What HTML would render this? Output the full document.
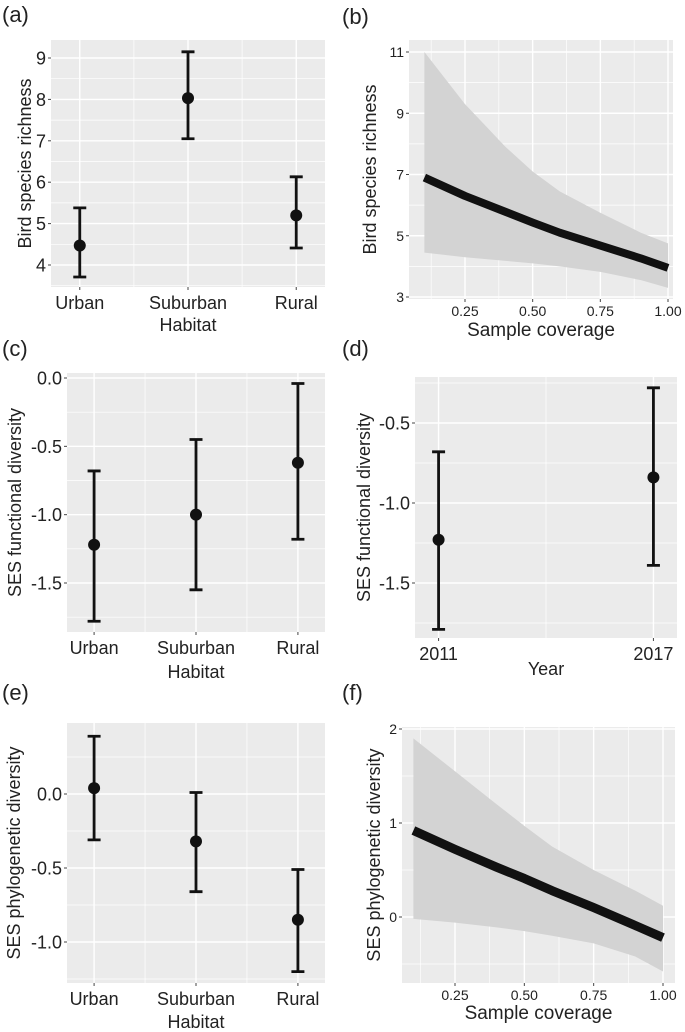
<!DOCTYPE html>
<html><head><meta charset="utf-8"><style>
html,body{margin:0;padding:0;background:#fff;}
svg{display:block;font-family:"Liberation Sans",sans-serif;}
</style></head><body>
<svg id="fig" width="685" height="1032" viewBox="0 0 685 1032" xmlns="http://www.w3.org/2000/svg"></svg>
<script>
// ---- data ----
const habitatCats = ["Urban","Suburban","Rural"];
const aMean = [4.47, 8.03, 5.2];
const aLow = [3.71, 7.05, 4.41];
const aHigh = [5.38, 9.15, 6.13];
const aTicks = [4,5,6,7,8,9];

const cMean = [-1.22, -1.0, -0.62];
const cLow = [-1.78, -1.55, -1.18];
const cHigh = [-0.68, -0.45, -0.04];
const cTicks = [0.0,-0.5,-1.0,-1.5];

const yearCats = ["2011","2017"];
const dMean = [-1.23, -0.84];
const dLow = [-1.79, -1.39];
const dHigh = [-0.68, -0.28];
const dTicks = [-0.5,-1.0,-1.5];

const eMean = [0.04, -0.32, -0.85];
const eLow = [-0.31, -0.66, -1.2];
const eHigh = [0.39, 0.01, -0.51];
const eTicks = [0.0,-0.5,-1.0];

const covX = [0.1, 0.25, 0.4, 0.5, 0.6, 0.75, 0.9, 1.0];
const bFit = [6.9, 6.3, 5.78, 5.43, 5.1, 4.68, 4.26, 3.95];
const bUpper = [11.0, 9.3, 7.9, 7.1, 6.45, 5.75, 5.1, 4.75];
const bLower = [4.45, 4.3, 4.18, 4.1, 4.0, 3.82, 3.55, 3.3];
const bTicks = [3,5,7,9,11];
const covTicks = [0.25,0.5,0.75,1.0];

const fFit = [0.92, 0.72, 0.53, 0.41, 0.28, 0.1, -0.09, -0.22];
const fUpper = [1.9, 1.55, 1.2, 0.97, 0.75, 0.5, 0.28, 0.12];
const fLower = [-0.02, -0.06, -0.11, -0.15, -0.2, -0.28, -0.42, -0.58];
const fTicks = [0,1,2];

// ---- helpers ----
const NS = "http://www.w3.org/2000/svg";
const svg = document.getElementById('fig');
function mk(tag, attrs, parent, text){
  const e = document.createElementNS(NS, tag);
  for (const k in attrs) e.setAttribute(k, attrs[k]);
  if (text !== undefined) e.textContent = text;
  (parent||svg).appendChild(e);
  return e;
}
function linScale(d0,d1,r0,r1){ return v => r0 + (v-d0)/(d1-d0)*(r1-r0); }

function panelFrame(g, box, name){
  const r = mk('rect',{x:box.x0,y:box.y0,width:box.x1-box.x0,height:box.y1-box.y0,fill:'#ebebeb'},g);
  
  
}
function gridLine(g,x1,y1,x2,y2,major){
  const l = mk('line',{x1:x1,y1:y1,x2:x2,y2:y2,stroke:'#fff','stroke-width':major?1.4:0.7},g);
  
  
}
function addText(g,x,y,s,size,anchor,name,rot){
  const t = mk('text',{x:x,y:y,'font-size':size,'text-anchor':anchor||'middle',fill:'#222'},g,s);
  if (rot) t.setAttribute('transform','rotate(-90 '+x+' '+y+')');
  
  
  return t;
}
function yAxis(g, box, sy, ticks, fmt, size, minorStep){
  const vmin = Math.min(...ticks), vmax = Math.max(...ticks);
  if (minorStep){
    for (let v = vmin - minorStep; v <= vmax + minorStep + 1e-9; v += minorStep*2){
      const yy = sy(v);
      if (yy > box.y0 && yy < box.y1) gridLine(g, box.x0, yy, box.x1, yy, false);
    }
  }
  ticks.forEach(v=>{
    const yy = sy(v);
    gridLine(g, box.x0, yy, box.x1, yy, true);
    const tk = mk('line',{x1:box.x0-3,y1:yy,x2:box.x0,y2:yy,stroke:'#444','stroke-width':1},g);
    
    
    addText(g, box.x0-5, yy+size*0.36, fmt(v), size, 'end', 'y-tick-label');
  });
}
function catPanel(name, box, cats, mean, low, high, ticks, ymin, ymax, fmt, ytitle, ytx, xtitle, xtitleY, tickSize, capW){
  const g = mk('g',{});
  
  
  panelFrame(g, box, name);
  const n = cats.length;
  const pad = (box.x1-box.x0) * (n===3 ? 0.105 : 0.09);
  const sx = linScale(0, n-1, box.x0+pad, box.x1-pad);
  const sy = linScale(ymin, ymax, box.y1, box.y0);
  const step = Math.abs(ticks[1]-ticks[0]);
  yAxis(g, box, sy, ticks, fmt, tickSize, step/2);
  for (let i=0;i<n-1;i++) gridLine(g, sx(i+0.5), box.y0, sx(i+0.5), box.y1, false);
  cats.forEach((c,i)=>{
    gridLine(g, sx(i), box.y0, sx(i), box.y1, true);
    const tk = mk('line',{x1:sx(i),y1:box.y1,x2:sx(i),y2:box.y1+3,stroke:'#444','stroke-width':1},g);
    
    
    addText(g, sx(i), box.y1+tickSize+4, c, tickSize, 'middle', 'x-tick-label-'+c.toLowerCase());
  });
  cats.forEach((c,i)=>{
    const x = sx(i);
    const eb = mk('path',{d:'M'+(x-capW/2)+','+sy(high[i])+'H'+(x+capW/2)+'M'+x+','+sy(high[i])+'V'+sy(low[i])+'M'+(x-capW/2)+','+sy(low[i])+'H'+(x+capW/2),stroke:'#111','stroke-width':2.8,fill:'none'},g);
    
    
    const pt = mk('circle',{cx:x,cy:sy(mean[i]),r:6,fill:'#111'},g);
    
    
  });
  addText(g, ytx, (box.y0+box.y1)/2, ytitle, 18, 'middle', 'y-axis-title', true);
  addText(g, (box.x0+box.x1)/2, xtitleY, xtitle, 18, 'middle', 'x-axis-title');
}
function covPanel(name, box, fit, upper, lower, ticks, ymin, ymax, ytitle, ytx, xtitleY, lw){
  const g = mk('g',{});
  
  
  panelFrame(g, box, name);
  const sx = linScale(0.25, 1.0, box.xa, box.xb);
  const sy = linScale(ymin, ymax, box.ya, box.yb);
  yAxis(g, box, sy, ticks, v=>String(v), 14, (ticks[1]-ticks[0])/2);
  [0.125,0.375,0.625,0.875].forEach(v=>{ if (sx(v)>box.x0) gridLine(g, sx(v), box.y0, sx(v), box.y1, false); });
  covTicks.forEach(v=>{
    gridLine(g, sx(v), box.y0, sx(v), box.y1, true);
    const tk = mk('line',{x1:sx(v),y1:box.y1,x2:sx(v),y2:box.y1+3,stroke:'#444','stroke-width':1},g);
    
    
    addText(g, sx(v), box.y1+17, v.toFixed(2), 14, 'middle', 'x-tick-label');
  });
  let d = '';
  covX.forEach((x,i)=>{ d += (i?'L':'M')+sx(x)+','+sy(upper[i]); });
  for (let i=covX.length-1;i>=0;i--) d += 'L'+sx(covX[i])+','+sy(lower[i]);
  const band = mk('path',{d:d+'Z',fill:'#d3d3d3'},g);
  
  
  let dl = '';
  covX.forEach((x,i)=>{ dl += (i?'L':'M')+sx(x)+','+sy(fit[i]); });
  const ln = mk('path',{d:dl,fill:'none',stroke:'#111','stroke-width':lw,'stroke-linejoin':'round'},g);
  
  
  addText(g, ytx, (box.y0+box.y1)/2, ytitle, 18, 'middle', 'y-axis-title', true);
  addText(g, (box.x0+box.x1)/2, xtitleY, 'Sample coverage', 19, 'middle', 'x-axis-title');
}

// panel labels
[['(a)',2,22],['(b)',342,24],['(c)',2,356],['(d)',342,356],['(e)',2,700],['(f)',342,700]].forEach(p=>{
  addText(svg, p[1], p[2], p[0], 22, 'start', 'panel-label-'+p[0][1]);
});

// (a): 9 at y=58, 4 at y=265
(function(){
  const y0=40,y1=287, per=(265-58)/5;
  const ymin = 4 - (y1-265)/per, ymax = 9 + (58-y0)/per;
  catPanel('panel-a-richness-habitat', {x0:51,x1:325,y0:y0,y1:y1}, habitatCats, aMean, aLow, aHigh, aTicks, ymin, ymax, String, 'Bird species richness', 31, 'Habitat', 331, 18, 13);
})();
// (c): 0.0 at 378, -1.5 at 583
(function(){
  const y0=373,y1=632, per=(583-378)/1.5;
  const ymax = 0 + (378-y0)/per, ymin = -1.5 - (y1-583)/per;
  catPanel('panel-c-functional-habitat', {x0:67,x1:325,y0:y0,y1:y1}, habitatCats, cMean, cLow, cHigh, cTicks, ymin, ymax, v=>v.toFixed(1), 'SES functional diversity', 21, 'Habitat', 678, 18, 13);
})();
// (d): -0.5 at 423, -1.5 at 583
(function(){
  const y0=377,y1=638, per=(583-423)/1.0;
  const ymax = -0.5 + (423-y0)/per, ymin = -1.5 - (y1-583)/per;
  catPanel('panel-d-functional-year', {x0:415,x1:677,y0:y0,y1:y1}, yearCats, dMean, dLow, dHigh, dTicks, ymin, ymax, v=>v.toFixed(1), 'SES functional diversity', 370, 'Year', 675, 18, 13);
})();
// (e): 0.0 at 794, -1.0 at 942
(function(){
  const y0=723,y1=983, per=(942-794)/1.0;
  const ymax = 0 + (794-y0)/per, ymin = -1.0 - (y1-942)/per;
  catPanel('panel-e-phylogenetic-habitat', {x0:67,x1:325,y0:y0,y1:y1}, habitatCats, eMean, eLow, eHigh, eTicks, ymin, ymax, v=>v.toFixed(1), 'SES phylogenetic diversity', 20, 'Habitat', 1028, 18, 13);
})();
// (b): 11 at y=52, 3 at y=297; 0.25 at x=465, 1.00 at x=668
covPanel('panel-b-richness-coverage', {x0:409,x1:673,y0:40,y1:299,xa:465,xb:668,ya:297,yb:52}, bFit, bUpper, bLower, bTicks, 3, 11, 'Bird species richness', 376, 336, 8);
// (f): 2 at y=729, 0 at y=917; 0.25 at x=455, 1.00 at x=663
covPanel('panel-f-phylogenetic-coverage', {x0:402,x1:675,y0:727,y1:983,xa:455,xb:663,ya:917,yb:729}, fFit, fUpper, fLower, fTicks, 0, 2, 'SES phylogenetic diversity', 380, 1019, 9);
</script>
</body></html>
